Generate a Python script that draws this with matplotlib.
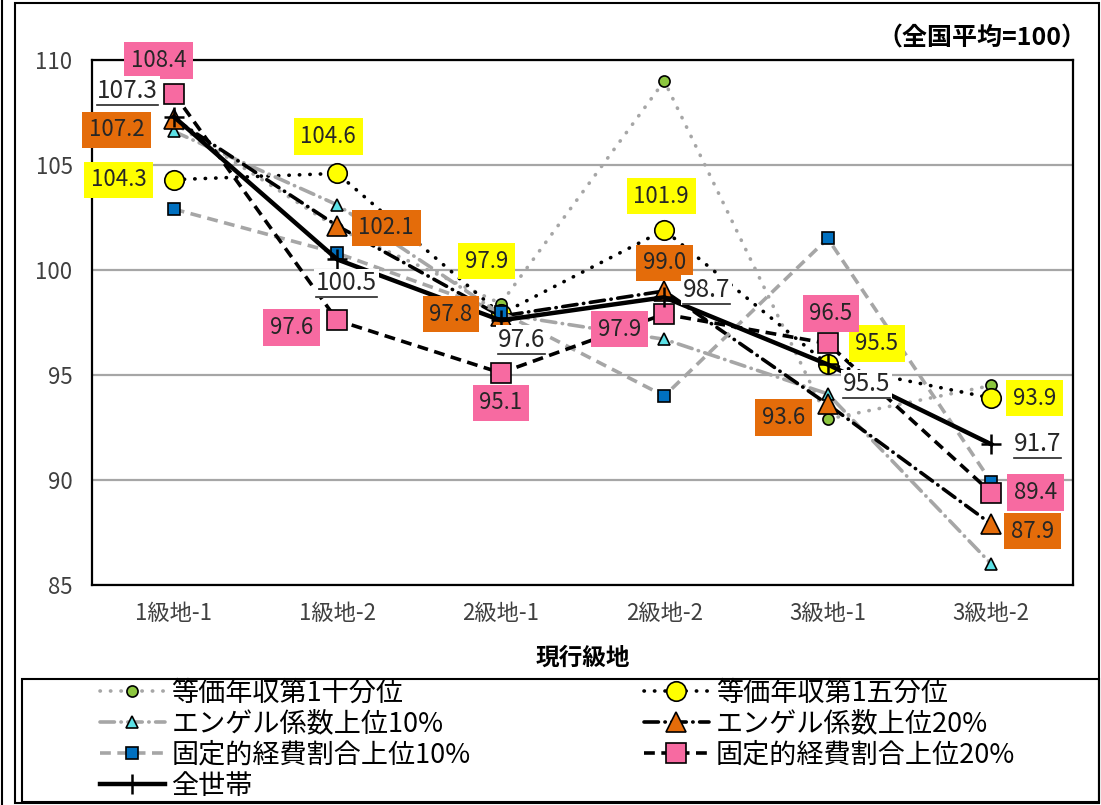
import matplotlib
matplotlib.use('Agg')
import matplotlib.pyplot as plt
from matplotlib.patches import Rectangle
from matplotlib.lines import Line2D

plt.rcParams['font.family'] = ['Noto Sans CJK JP', 'DejaVu Sans']

# データ (全国平均=100)
categories = ['1級地-1', '1級地-2', '2級地-1', '2級地-2', '3級地-1', '3級地-2']
decile1 = [107.0, 102.0, 98.4, 109.0, 92.9, 94.5]        # 等価年収第1十分位
quintile1 = [104.3, 104.6, 97.9, 101.9, 95.5, 93.9]      # 等価年収第1五分位
engel10 = [106.6, 103.1, 97.9, 96.7, 94.1, 86.0]         # エンゲル係数上位10%
engel20 = [107.2, 102.1, 97.8, 99.0, 93.6, 87.9]         # エンゲル係数上位20%
fixed10 = [102.9, 100.8, 98.0, 94.0, 101.5, 89.9]        # 固定的経費割合上位10%
fixed20 = [108.4, 97.6, 95.1, 97.9, 96.5, 89.4]          # 固定的経費割合上位20%
total = [107.3, 100.5, 97.6, 98.7, 95.5, 91.7]           # 全世帯

names = ['等価年収第1十分位', '等価年収第1五分位', 'エンゲル係数上位10%',
         'エンゲル係数上位20%', '固定的経費割合上位10%', '固定的経費割合上位20%', '全世帯']

fig = plt.figure(figsize=(11.01, 8.05), dpi=100)
ax = fig.add_axes([0.0836, 0.2733, 0.891, 0.6522])
x = range(len(categories))

dot = (0, (0.1, 2.8))
dashdot = (0, (4, 1.8, 0.1, 1.8))
dash = (0, (3, 1.8))

h = []
h += ax.plot(x, decile1, color='#a6a6a6', lw=2.6, ls=dot, dash_capstyle='round',
             marker='o', ms=8, mfc='#8cc63f', mec='black', mew=1.2, label=names[0])
h += ax.plot(x, quintile1, color='black', lw=2.6, ls=dot, dash_capstyle='round',
             marker='o', ms=14, mfc='#ffff00', mec='black', mew=1.2, label=names[1])
h += ax.plot(x, engel10, color='#a6a6a6', lw=2.6, ls=dashdot, dash_capstyle='round',
             marker='^', ms=8, mfc='#5ce1e6', mec='black', mew=1.2, label=names[2])
h += ax.plot(x, engel20, color='black', lw=2.6, ls=dashdot, dash_capstyle='round',
             marker='^', ms=14, mfc='#e46c0a', mec='black', mew=1.2, label=names[3])
h += ax.plot(x, fixed10, color='#a6a6a6', lw=2.6, ls=dash,
             marker='s', ms=8, mfc='#0070c0', mec='black', mew=1.2, label=names[4])
h += ax.plot(x, fixed20, color='black', lw=2.6, ls=dash,
             marker='s', ms=14, mfc='#f76aa1', mec='black', mew=1.2, label=names[5])
h += ax.plot(x, total, color='black', lw=3.2, marker='+', ms=15, mew=1.8, label=names[6])

# データラベル
def labels(vals, offsets, face, size=16):
    out = []
    for i, (v, off) in enumerate(zip(vals, offsets)):
        if face == 'white':
            box = dict(boxstyle='square,pad=0.08', fc='white', ec='none')
        else:
            box = dict(boxstyle='square,pad=0.3', fc=face, ec='none')
        t = ax.annotate(f'{v:.1f}', (i, v), xytext=off, textcoords='offset pixels',
                        ha='center', va='center', fontsize=size, color='#262626',
                        bbox=box, zorder=6)
        out.append(t)
    return out

labels(quintile1, [(-55, 0), (-9, 37), (-14, 53), (-3, 34), (49, 21), (43, 0)], '#ffff00')
labels(engel20, [(-57, -11), (49, -2), (-50, 2), (0, 28), (-44, -13), (41, -7)], '#e46c0a')
labels(fixed20, [(-15, 33), (-46, -7), (0, -30), (-45, -15), (3, 30), (44, 0)], '#f76aa1')
tot_labels = labels(total, [(-46, 26), (9, -24), (21, -20), (42, 7), (39, -20), (46, 0)],
                    'white', size=17.5)

ax.set_xlim(-0.5, 5.5)
ax.set_ylim(85, 110)
ax.set_yticks([85, 90, 95, 100, 105, 110])
ax.set_xticks(list(x))
ax.set_xticklabels(categories)
ax.tick_params(length=0, labelsize=16, labelcolor='#404040')
ax.tick_params(axis='x', pad=12)
ax.tick_params(axis='y', pad=14)
ax.yaxis.grid(True, color='#a6a6a6', lw=1.6)
ax.set_axisbelow(True)
for s in ax.spines.values():
    s.set_color('black')
    s.set_linewidth(1.6)
ax.set_xlabel('現行級地', fontsize=17, fontweight='bold', labelpad=15)

fig.text(1086 / 1101, 1 - 39 / 805, '（全国平均=100）', ha='right', va='center',
         fontsize=18, fontweight='bold')

# 凡例 (行優先の並び)
order = [0, 2, 4, 6, 1, 3, 5]
fig.legend([h[i] for i in order], [names[i] for i in order], ncol=2,
           loc='upper left', bbox_to_anchor=(97 / 1101, 1 - 677 / 805),
           frameon=False, fontsize=19.5, handlelength=2.4, handletextpad=0.25,
           columnspacing=6.4, labelspacing=0.15, borderpad=0.1, borderaxespad=0)

# 枠線
fig.patches.append(Rectangle((22 / 1101, 3 / 805), 1077 / 1101, 123 / 805,
                             transform=fig.transFigure, fill=False, ec='black', lw=1.5))
fig.patches.append(Rectangle((15 / 1101, 2 / 805), 1084 / 1101, 800 / 805,
                             transform=fig.transFigure, fill=False, ec='black', lw=1.5))
fig.lines.append(Line2D([2 / 1101, 2 / 1101], [0, 1], transform=fig.transFigure,
                        color='black', lw=1.5))

# 全世帯ラベルの下線
fig.canvas.draw()
r = fig.canvas.get_renderer()
inv = fig.transFigure.inverted()
for t in tot_labels:
    bb = t.get_window_extent(r)
    (x0, y0), (x1, _) = inv.transform([(bb.x0, bb.y0 - 1), (bb.x1, bb.y0 - 1)])
    fig.lines.append(Line2D([x0, x1], [y0, y0], transform=fig.transFigure,
                            color='#262626', lw=1.2, zorder=7))

fig.savefig('out.png', dpi=100)
